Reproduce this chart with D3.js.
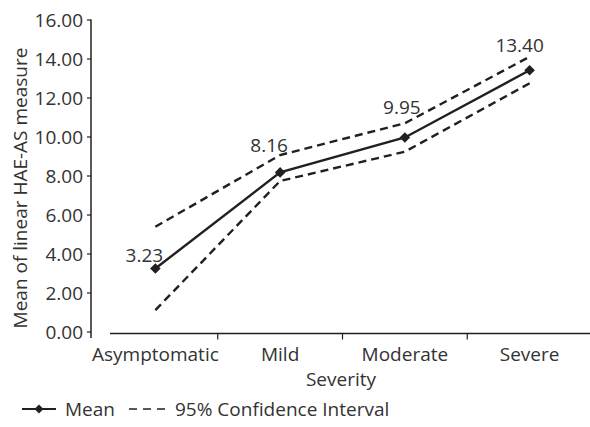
<!DOCTYPE html>
<html>
<head>
<meta charset="utf-8">
<script src="https://cdn.jsdelivr.net/npm/d3@7"></script>
<style>
    body { margin: 0; background: #fff; }
    text { font-family: "Open Sans", "Noto Sans", sans-serif; fill: #333; }
</style>
</head>
<body>
<div id="chart"></div>
<script>
'use strict';

// Data
const categories = ['Asymptomatic', 'Mild', 'Moderate', 'Severe'];
const meanValues = [3.23, 8.16, 9.95, 13.40];
const ciUpper = [5.37, 9.05, 10.68, 14.09];
const ciLower = [1.10, 7.72, 9.22, 12.73];
const yTicks = [0, 2, 4, 6, 8, 10, 12, 14, 16];

// Label nudges (dx, dy from marker)
const labelNudge = [[-11, -7], [-11, -20], [-3, -23], [-10, -18]];

// Config svg
const w = 590;
const h = 427;
const ink = '#231f20';
const fs = '19px';

const svg = d3.select('#chart')
    .append('svg')
    .attr('width', w)
    .attr('height', h);

// Scales
const x = d3.scaleBand()
    .domain(categories)
    .range([93, 592]);
const y = d3.scaleLinear()
    .domain([0, 16])
    .range([331.5, 19.5]);
const cx = d => x(d) + x.bandwidth() / 2;

// Y axis
const yAxis = svg.append('g')
    .attr('transform', 'translate(91,0)')
    .call(d3.axisLeft(y).tickValues(yTicks).tickFormat(d3.format('.2f')).tickSize(4).tickSizeOuter(0));
yAxis.select('.domain').remove();
yAxis.append('line')
    .attr('y1', y(16))
    .attr('y2', 338)
    .attr('stroke', ink)
    .attr('stroke-width', 1.5);
yAxis.selectAll('.tick line').attr('stroke', ink).attr('stroke-width', 1.2);
yAxis.selectAll('.tick text')
    .attr('x', -8)
    .attr('dy', '0.36em')
    .style('font-size', fs)
    .style('fill', '#333');

// X axis
const xAxis = svg.append('g')
    .attr('transform', 'translate(0,333.5)');
xAxis.append('line')
    .attr('x1', 110)
    .attr('x2', 590)
    .attr('stroke', ink)
    .attr('stroke-width', 1.5);
xAxis.selectAll('.sep')
    .data(categories.slice(1))
    .join('line')
    .attr('class', 'sep')
    .attr('x1', d => x(d))
    .attr('x2', d => x(d))
    .attr('y1', 0)
    .attr('y2', 6)
    .attr('stroke', ink)
    .attr('stroke-width', 1.2);
xAxis.selectAll('.xlab')
    .data(categories)
    .join('text')
    .attr('class', 'xlab')
    .attr('x', d => cx(d))
    .attr('y', 27)
    .attr('text-anchor', 'middle')
    .style('font-size', fs)
    .text(d => d);

// Axis titles
svg.append('text')
    .attr('x', 341)
    .attr('y', 386)
    .attr('text-anchor', 'middle')
    .style('font-size', fs)
    .text('Severity');
svg.append('text')
    .attr('transform', 'translate(27,188) rotate(-90)')
    .attr('text-anchor', 'middle')
    .style('font-size', fs)
    .text('Mean of linear HAE-AS measure');

// Lines
const line = d3.line()
    .x((d, i) => cx(categories[i]))
    .y(d => y(d));

[ciUpper, ciLower].forEach(series => {
    svg.append('path')
        .datum(series)
        .attr('d', line)
        .attr('fill', 'none')
        .attr('stroke', ink)
        .attr('stroke-width', 2.4)
        .attr('stroke-dasharray', '8,5');
});

svg.append('path')
    .datum(meanValues)
    .attr('d', line)
    .attr('fill', 'none')
    .attr('stroke', ink)
    .attr('stroke-width', 2.4);

// Diamond = rotated square
const diamond = d3.symbol().type(d3.symbolSquare).size(56);

svg.selectAll('.marker')
    .data(meanValues)
    .join('path')
    .attr('class', 'marker')
    .attr('d', diamond)
    .attr('transform', (d, i) => `translate(${cx(categories[i])},${y(d)}) rotate(45)`)
    .attr('fill', ink);

// Value labels
svg.selectAll('.vlab')
    .data(meanValues)
    .join('text')
    .attr('class', 'vlab')
    .attr('x', (d, i) => cx(categories[i]) + labelNudge[i][0])
    .attr('y', (d, i) => y(d) + labelNudge[i][1])
    .attr('text-anchor', 'middle')
    .style('font-size', fs)
    .text(d => d3.format('.2f')(d));

// Legend
const legend = svg.append('g').attr('transform', 'translate(0,409)');
legend.append('line')
    .attr('x1', 22).attr('x2', 56)
    .attr('stroke', ink).attr('stroke-width', 2);
legend.append('path')
    .attr('d', d3.symbol().type(d3.symbolSquare).size(40))
    .attr('transform', 'translate(39,0) rotate(45)')
    .attr('fill', ink);
legend.append('text')
    .attr('x', 65).attr('dy', '0.36em')
    .style('font-size', fs)
    .text('Mean');
legend.append('line')
    .attr('x1', 129).attr('x2', 166)
    .attr('stroke', ink).attr('stroke-width', 1.5)
    .attr('stroke-dasharray', '8,6');
legend.append('text')
    .attr('x', 175).attr('dy', '0.36em')
    .style('font-size', fs)
    .text('95% Confidence Interval');
</script>
</body>
</html>
